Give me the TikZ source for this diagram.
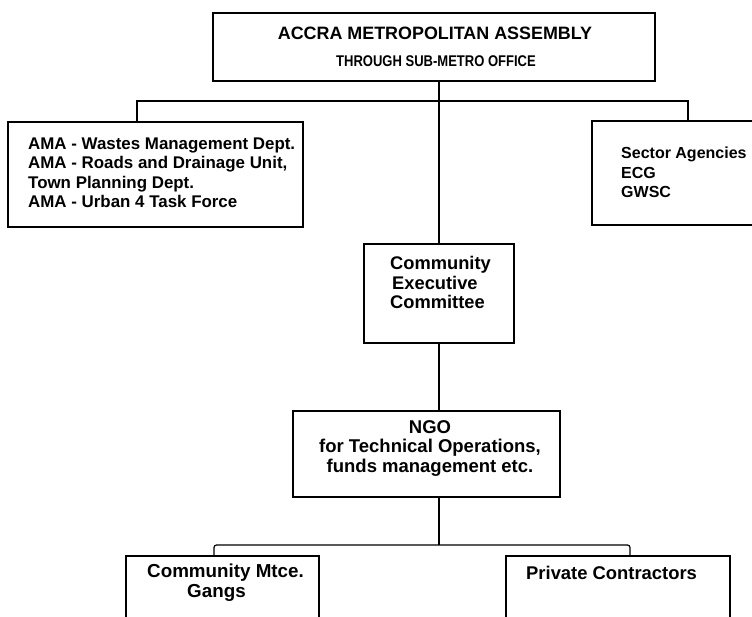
\documentclass[tikz,border=0pt]{standalone}
\usepackage{fontspec}
\setmainfont{Liberation Sans}
\begin{document}
\begin{tikzpicture}[x=1pt,y=-1pt,
  box/.style={draw=black, line width=1.4pt, inner sep=0pt, fill=none},
  conn/.style={draw=black, line width=1.2pt},
  txt/.style={inner sep=0pt, text=black}]
\useasboundingbox (0,0) rectangle (752,617);
\fill[white] (0,0) rectangle (752,617);
\clip (0,0) rectangle (752,617);
% boxes
\node[box, minimum width=442pt, minimum height=68pt] (ama) at (434,47) {};
\node[box, minimum width=295pt, minimum height=105pt] (lft) at (155.5,174.5) {};
\node[box, minimum width=200pt, minimum height=104pt] (rgt) at (692,173) {};
\node[box, minimum width=150pt, minimum height=99pt] (cec) at (439,293.5) {};
\node[box, minimum width=267pt, minimum height=86pt] (ngo) at (426.5,454) {};
\node[box, minimum width=193pt, minimum height=100pt] (bl) at (222.5,606) {};
\node[box, minimum width=224pt, minimum height=100pt] (br) at (618,606) {};
% texts
\node[txt, font={\bfseries\fontsize{17.9}{20}\selectfont}] (t1) at (435,33) {ACCRA METROPOLITAN ASSEMBLY};
\node[txt, font={\bfseries\fontsize{15.5}{18}\selectfont}] (t2) at (436,61) {\scalebox{0.84}[1]{THROUGH SUB-METRO OFFICE}};
\node[txt, anchor=west, align=left, font={\bfseries\fontsize{16.9}{19.5}\selectfont}] (t3) at (28,173)
  {AMA - Wastes Management Dept.\\AMA - Roads and Drainage Unit,\\Town Planning Dept.\\AMA - Urban 4 Task Force};
\node[txt, anchor=west, align=left, font={\bfseries\fontsize{16}{19.5}\selectfont}] (t4) at (621,172.5)
  {Sector Agencies\\ECG\\GWSC};
\node[txt, anchor=west, align=left, font={\bfseries\fontsize{18.3}{19.5}\selectfont}] (t5) at (390,282.5)
  {Community\\\hspace*{2pt}Executive\\Committee};
\node[txt, align=center, font={\bfseries\fontsize{18.5}{19.5}\selectfont}] (t6) at (430,448.5)
  {NGO\\for Technical Operations,\\funds management etc.};
\node[txt, anchor=west, align=left, font={\bfseries\fontsize{18.8}{20}\selectfont}] (t7) at (147,583)
  {Community Mtce.\\\hspace*{40pt}Gangs};
\node[txt, anchor=west, font={\bfseries\fontsize{18.4}{20}\selectfont}] (t8) at (526,573)
  {Private Contractors};
% connectors
\coordinate (busL) at (137,101);
\coordinate (busR) at (688,101);
\coordinate (bbL) at (214,545);
\coordinate (bbR) at (630,545);
\draw[conn] (ama.south -| cec.north) -- (cec.north);
\draw[conn] (busL |- lft.north) -- (busL) -- (busR) -- (busR |- rgt.north);
\draw[conn] (cec.south) -- (ngo.north -| cec.south);
\draw[conn] (ngo.south -| cec.south) -- (cec.south |- bbL);
\draw[conn, rounded corners=2.5pt] (bbL |- bl.north) -- (bbL) -- (bbR) -- (bbR |- br.north);
\end{tikzpicture}
\end{document}
